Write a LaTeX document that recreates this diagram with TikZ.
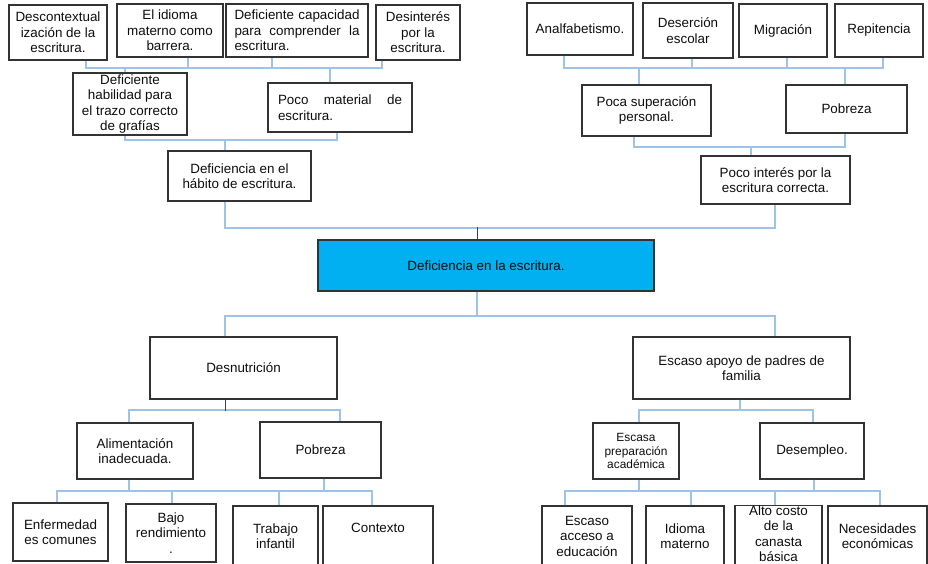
\documentclass[tikz,border=0pt]{standalone}
\usepackage{fontspec}
\setmainfont{Liberation Sans}
\definecolor{cblue}{RGB}{157,195,230}
\definecolor{mainfill}{RGB}{0,176,240}
\newcommand\fsz{\fontsize{13.4}{15.5}\selectfont}
\newcommand\fsmall{\fontsize{11.9}{13.9}\selectfont}
\begin{document}
\begin{tikzpicture}[x=1pt,y=-1pt,
  box/.style={draw=black!80, line width=1.2pt, inner sep=0pt, align=center, text=black!95, font=\fsz},
  conn/.style={draw=cblue, line width=1.1pt},
  blk/.style={draw=black!75, line width=1pt}]
\useasboundingbox (0,0) rectangle (928,564);
% top left
\node[box, minimum width=98, minimum height=55] (desc) at (58,32.5) {Descontextual\\ización de la\\escritura.};
\node[box, minimum width=106, minimum height=53] (idioma) at (170,30.5) {El idioma\\materno como\\barrera.};
\node[box, minimum width=142, minimum height=53, align=left] (capac) at (297,30.5) {\makebox[125pt][s]{Deficiente capacidad}\\\makebox[125pt][s]{para comprender la}\\escritura.};
\node[box, minimum width=84, minimum height=55] (desint) at (418,32.5) {Desinterés\\por la\\escritura.};
\node[box, minimum width=114, minimum height=62] (habil) at (130,104) {Deficiente\\habilidad para\\el trazo correcto\\de grafías};
\node[box, minimum width=144, minimum height=49, align=left] (pocomat) at (340,107.5) {\makebox[124pt][s]{Poco material de}\\escritura.};
\node[box, minimum width=143, minimum height=50] (habito) at (239.5,176) {Deficiencia en el\\hábito de escritura.};
% top right
\node[box, minimum width=106, minimum height=52] (analf) at (580,29) {Analfabetismo.};
\node[box, minimum width=90, minimum height=55] (deser) at (688,30.5) {Deserción\\escolar};
\node[box, minimum width=88, minimum height=53] (migr) at (783,30.5) {Migración};
\node[box, minimum width=88, minimum height=53] (repit) at (879,30.5) {Repitencia};
\node[box, minimum width=129, minimum height=51] (poca) at (646.5,110.5) {Poca superación\\personal.};
\node[box, minimum width=121, minimum height=48] (pobA) at (846.5,109) {Pobreza};
\node[box, minimum width=149, minimum height=48] (interes) at (775.5,180) {Poco interés por la\\escritura correcta.};
% main
\node[box, fill=mainfill, minimum width=336, minimum height=51] (main) at (486,265.5) {Deficiencia en la escritura.};
% lower
\node[box, minimum width=187, minimum height=62] (desn) at (243.5,368) {Desnutrición};
\node[box, minimum width=217, minimum height=62] (apoyo) at (741.5,368) {Escaso apoyo de padres de\\familia};
\node[box, minimum width=116, minimum height=56] (alim) at (135,451) {Alimentación\\inadecuada.};
\node[box, minimum width=121, minimum height=56] (pobB) at (320.5,450) {Pobreza};
\node[box, minimum width=86, minimum height=56, font=\fsmall] (prep) at (636,451) {Escasa\\preparación\\académica};
\node[box, minimum width=104, minimum height=56] (desem) at (812,451) {Desempleo.};
\node[box, minimum width=95, minimum height=58] (enf) at (60.5,532) {Enfermedad\\es comunes};
\node[box, minimum width=90, minimum height=58] (bajo) at (171,533) {Bajo\\rendimiento\\.};
\node[box, minimum width=85, minimum height=60] (trab) at (275.5,536) {Trabajo\\infantil};
\node[box, minimum width=110, minimum height=60] (cont) at (378,536) {Contexto\\\mbox{}};
\node[box, minimum width=90, minimum height=60] (acc) at (587,536) {Escaso\\acceso a\\educación};
\node[box, minimum width=78, minimum height=60] (idm) at (685,536) {Idioma\\materno};
\node[box, minimum width=87, minimum height=60] (alto) at (778.5,536) {Alto costo\\de la\\canasta\\básica\\[-11pt]\mbox{}};
\node[box, minimum width=99, minimum height=60] (nec) at (877.5,536) {Necesidades\\económicas};
% bus coordinates
\coordinate (busA) at (234,68);
\coordinate (busB) at (231,140);
\coordinate (busC) at (500,228);
\coordinate (busD) at (724,68);
\coordinate (busE) at (740,147);
\coordinate (busF) at (500,316);
\coordinate (busG) at (235,410);
\coordinate (busH) at (726,410);
\coordinate (busI) at (215,491);
\coordinate (busJ) at (722,491);
% top left connectors
\draw[conn] ([xshift=28pt]desc.south) |- (busA) -| ([xshift=-36pt]desint.south);
\draw[conn] ([xshift=18pt]idioma.south) |- (busA);
\draw[conn] ([xshift=-25pt]capac.south) |- (busA);
\draw[conn] ([xshift=-5pt]habil.north) |- (busA);
\draw[conn] ([xshift=-10pt]pocomat.north) |- (busA);
\draw[conn] ([xshift=-5pt]habil.south) |- (busB) -| ([xshift=-3pt]pocomat.south);
\draw[conn] ([xshift=-14.5pt]habito.north) |- (busB);
% main upper bus
\draw[conn] ([xshift=-14.5pt]habito.south) |- (busC) -| ([xshift=-0.5pt]interes.south);
\draw[blk] ([xshift=-9pt]main.north) -- ++(0,-12);
% top right connectors
\draw[conn] ([xshift=-16pt]analf.south) |- (busD) -| ([xshift=4pt]repit.south);
\draw[conn] ([xshift=4pt]deser.south) |- (busD);
\draw[conn] ([xshift=4pt]migr.south) |- (busD);
\draw[conn] ([xshift=-7.5pt]poca.north) |- (busD);
\draw[conn] ([xshift=-1.5pt]pobA.north) |- (busD);
\draw[conn] ([xshift=-12.5pt]poca.south) |- (busE) -| ([xshift=-1.5pt]pobA.south);
\draw[conn] ([xshift=-24.5pt]interes.north) |- (busE);
% main lower bus
\draw[conn] ([xshift=-18.5pt]desn.north) |- (busF) -| ([xshift=33.5pt]apoyo.north);
\draw[conn] ([xshift=-9pt]main.south) |- (busF);
% desnutricion
\draw[conn] ([xshift=-6pt]alim.north) |- (busG) -| ([xshift=19.5pt]pobB.north);
\draw[blk] ([xshift=-18.5pt]desn.south) -- ++(0,11);
% apoyo
\draw[conn] ([xshift=3pt]prep.north) |- (busH) -| ([xshift=1pt]desem.north);
\draw[conn] ([xshift=-1.5pt]apoyo.south) |- (busH);
% bottom left
\draw[conn] ([xshift=-3.5pt]enf.north) |- (busI) -| ([xshift=-6pt]cont.north);
\draw[conn] ([xshift=1pt]bajo.north) |- (busI);
\draw[conn] ([xshift=3.5pt]trab.north) |- (busI);
\draw[conn] ([xshift=-6pt]alim.south) |- (busI);
\draw[conn] ([xshift=3.5pt]pobB.south) |- (busI);
% bottom right
\draw[conn] ([xshift=-22pt]acc.north) |- (busJ) -| ([xshift=2.5pt]nec.north);
\draw[conn] ([xshift=6pt]idm.north) |- (busJ);
\draw[conn] ([xshift=-3.5pt]alto.north) |- (busJ);
\draw[conn] ([xshift=3pt]prep.south) |- (busJ);
\draw[conn] ([xshift=2pt]desem.south) |- (busJ);
\end{tikzpicture}
\end{document}
